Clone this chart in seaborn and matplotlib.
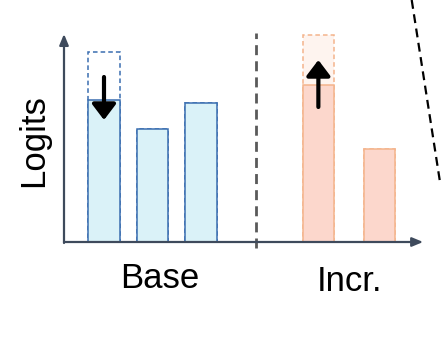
import numpy as np
import pandas as pd
import seaborn as sns
import matplotlib.pyplot as plt
from matplotlib.lines import Line2D

# ---- data ----
groups = ["Base", "Incr."]
base_pos = [0.0, 1.0, 2.0]
base_logits = [7.1, 5.65, 6.95]
base_prev = [9.5, 5.65, 6.95]
incr_pos = [4.42, 5.69]
incr_logits = [7.85, 4.65]
incr_prev = [10.35, 4.65]

BAR_W = 0.64
FONT = "Liberation Sans"

sns.set_style("white")
plt.rcParams["font.family"] = [FONT, "DejaVu Sans"]

fig = plt.figure(figsize=(4.41, 3.39), dpi=100)
ax = fig.add_axes([64 / 441, (339 - 242) / 339, (441 - 64) / 441, (242 - 20) / 339])

blue_fill, blue_edge = "#DAF2F8", "#3A6EB0"
or_fill, or_edge = "#FCD7CC", "#F4B48C"
or_prev_fill = "#FEF4EF"


def draw(pos, cur, prev, fill, edge, prev_fill):
    w = BAR_W / np.min(np.diff(pos))
    dprev = pd.DataFrame({"x": pos, "y": prev})
    dcur = pd.DataFrame({"x": pos, "y": cur})
    if prev_fill is None:
        sns.barplot(data=dprev, x="x", y="y", native_scale=True, orient="x",
                    errorbar=None, fill=False, color=edge, width=w,
                    linewidth=1.1, linestyle=(0, (3, 2)), ax=ax, zorder=2)
    else:
        sns.barplot(data=dprev, x="x", y="y", native_scale=True, orient="x",
                    errorbar=None, color=prev_fill, saturation=1, edgecolor=edge,
                    width=w, linewidth=1.1, linestyle=(0, (3, 2)), ax=ax, zorder=2)
    sns.barplot(data=dcur, x="x", y="y", native_scale=True, orient="x",
                errorbar=None, color=fill, saturation=1, edgecolor=edge,
                width=w, linewidth=1.1, ax=ax, zorder=3)


draw(base_pos, base_logits, base_prev, blue_fill, blue_edge, None)
draw(incr_pos, incr_logits, incr_prev, or_fill, or_edge, or_prev_fill)

xmin, xmax = -0.8247, 6.9485
ax.set_xlim(xmin, xmax)
ax.set_ylim(0, 11.1)
ax.set_xticks([])
ax.set_yticks([])
ax.set_xlabel("")
ax.set_ylabel("")
for s in ax.spines.values():
    s.set_visible(False)

axis_col = "#3E4A5C"
ax_arrow = dict(arrowstyle="-|>,head_length=0.65,head_width=0.27", color=axis_col,
                lw=1.6, shrinkA=0, shrinkB=0, mutation_scale=10)
ax.annotate("", xy=(6.58, 0), xytext=(xmin, 0), arrowprops=ax_arrow,
            annotation_clip=False, zorder=5)
ax.annotate("", xy=(xmin, 10.4), xytext=(xmin, -0.05), arrowprops=ax_arrow,
            annotation_clip=False, zorder=5)

# change arrows
blk = dict(arrowstyle="-|>,head_length=0.95,head_width=0.72", color="black",
           lw=3.0, shrinkA=0, shrinkB=0, mutation_scale=10)
ax.annotate("", xy=(base_pos[0], base_logits[0] - 1.0),
            xytext=(base_pos[0], base_prev[0] - 1.25), arrowprops=blk, zorder=6)
ax.annotate("", xy=(incr_pos[0], incr_prev[0] - 1.25),
            xytext=(incr_pos[0], incr_logits[0] - 1.1), arrowprops=blk, zorder=6)

# separator
ax.plot([3.144, 3.144], [-0.3, 10.45], color="#5A5A5A", lw=2.0,
        linestyle=(0, (3.6, 2.2)), clip_on=False, zorder=4)

# labels
ax.text(1.155, -2.3, groups[0], fontsize=25, ha="center", va="baseline",
        family=FONT, color="black")
ax.text(5.07, -2.45, groups[1], fontsize=25, ha="center", va="baseline",
        family=FONT, color="black")
fig.text(34 / 441, 1 - 141 / 339, "Logits", fontsize=25, rotation=90,
         ha="center", va="center", family=FONT, color="black")

# cropped diagonal dashed line at right edge
fig.add_artist(Line2D([411.7 / 441, 440 / 441], [1.0, 1 - 182 / 339],
                      transform=fig.transFigure, color="black", lw=1.6,
                      linestyle=(0, (4, 2.5))))

fig.savefig("out.png", dpi=100)
